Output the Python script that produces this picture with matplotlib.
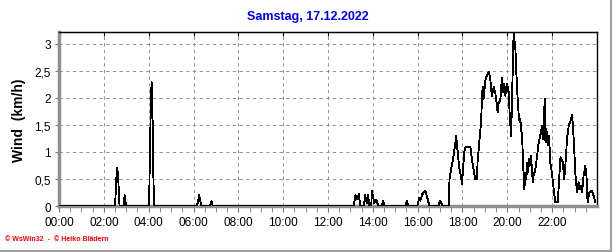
import numpy as np
import matplotlib
matplotlib.use("Agg")
import matplotlib.pyplot as plt
from matplotlib.lines import Line2D

plt.rcParams['font.family'] = ['Liberation Sans', 'DejaVu Sans']

# wind speed (km/h) over the day, time in hours
hours = [0.0, 2.50, 2.52, 2.56, 2.60, 2.64, 2.68, 2.70,
         2.88, 2.91, 2.93, 2.96, 2.99,
         4.02, 4.04, 4.09, 4.13, 4.17, 4.21, 4.24,
         6.15, 6.21, 6.25, 6.30, 6.34,
         6.74, 6.80, 6.86,
         13.15, 13.22, 13.30, 13.37, 13.44,
         13.60, 13.66, 13.73, 13.79, 13.84,
         13.93, 13.96, 14.02, 14.06, 14.15, 14.24,
         14.40, 14.46, 14.53,
         15.46, 15.52, 15.58,
         15.98, 16.07, 16.12, 16.21, 16.34, 16.43, 16.52,
         16.92, 17.01, 17.10,
         17.39, 17.42, 17.49, 17.58, 17.68, 17.72, 17.83, 17.87, 17.93, 17.98,
         18.02, 18.08, 18.13, 18.35, 18.42, 18.49, 18.57, 18.65, 18.67, 18.76,
         18.83, 18.87, 18.90, 18.94, 18.99, 19.03, 19.09, 19.17, 19.24, 19.31,
         19.39, 19.46, 19.51, 19.57, 19.61, 19.69, 19.76, 19.81, 19.87, 19.91,
         19.99, 20.06, 20.10, 20.17, 20.28, 20.31, 20.36, 20.40, 20.46, 20.51,
         20.55, 20.58, 20.61, 20.66, 20.70, 20.73, 20.76, 20.80, 20.85, 20.88,
         20.92, 20.98, 21.03, 21.06, 21.10, 21.15, 21.17, 21.25, 21.33, 21.40,
         21.47, 21.55, 21.59, 21.62, 21.67, 21.70, 21.74, 21.80, 21.84, 21.89,
         21.92, 21.99, 22.07, 22.14, 22.25, 22.37, 22.47, 22.54, 22.62, 22.66,
         22.74, 22.84, 22.89, 22.96, 23.04, 23.11, 23.18, 23.23, 23.29, 23.33,
         23.40, 23.48, 23.53, 23.58, 23.65, 23.78, 23.85, 23.93]
wind = [0.0, 0.0, 0.17, 0.52, 0.70, 0.52, 0.17, 0.0,
        0.0, 0.12, 0.20, 0.10, 0.0,
        0.0, 0.57, 1.72, 2.29, 1.72, 0.57, 0.0,
        0.0, 0.10, 0.21, 0.10, 0.0,
        0.0, 0.09, 0.0,
        0.0, 0.20, 0.12, 0.22, 0.0,
        0.0, 0.20, 0.05, 0.20, 0.0,
        0.0, 0.28, 0.15, 0.05, 0.12, 0.0,
        0.0, 0.10, 0.0,
        0.0, 0.09, 0.0,
        0.0, 0.15, 0.10, 0.22, 0.28, 0.15, 0.0,
        0.0, 0.10, 0.0,
        0.0, 0.50, 0.68, 0.87, 1.18, 1.29, 0.80, 0.68, 0.56, 0.40,
        0.68, 1.00, 1.09, 1.09, 0.87, 0.68, 0.50, 0.50, 0.80, 1.24,
        1.55, 2.04, 2.20, 1.98, 2.20, 2.35, 2.41, 2.49, 2.35, 2.04,
        2.20, 2.10, 1.95, 1.73, 1.90, 1.98, 2.38, 2.10, 2.26, 2.04,
        2.26, 2.10, 1.73, 1.30, 3.22, 3.10, 2.90, 2.48, 1.98, 1.67,
        1.55, 1.62, 1.43, 1.30, 0.80, 0.56, 0.31, 0.62, 0.50, 0.80,
        0.62, 0.87, 0.75, 0.93, 0.62, 0.44, 0.56, 0.68, 0.93, 1.18,
        1.30, 1.49, 1.24, 1.55, 1.98, 1.18, 1.43, 1.12, 1.30, 1.05,
        0.80, 0.60, 0.30, 0.07, 0.07, 0.90, 0.81, 0.50, 0.93, 1.24,
        1.49, 1.60, 1.69, 1.24, 0.56, 0.25, 0.44, 0.31, 0.37, 0.25,
        0.56, 0.74, 0.56, 0.07, 0.25, 0.28, 0.19, 0.07]

hour_ticks = list(range(0, 24, 2))
hour_labels = ["%02d:00" % h for h in hour_ticks]
wind_ticks = [0, 0.5, 1, 1.5, 2, 2.5, 3]
wind_labels = ["0", "0,5", "1", "1,5", "2", "2,5", "3"]

fig = plt.figure(figsize=(6.16, 2.53), dpi=100)
ax = fig.add_axes([59 / 616, 1 - 207 / 253, 538 / 616, 174 / 253])

ax.plot(hours, wind, color="black", lw=0.6, antialiased=False, zorder=3)

ax.set_xlim(0, 24)
ax.set_ylim(0, 3.22)
ax.set_xticks(hour_ticks)
ax.set_xticklabels(hour_labels, fontsize=8.5)
ax.set_xticks(np.arange(0, 24, 0.5), minor=True)
ax.set_yticks(wind_ticks)
ax.set_yticklabels(wind_labels, fontsize=8.5)

ax.grid(True, which="major", color="#808080", linestyle=(0, (4, 4)), lw=0.6)
ax.tick_params(axis="x", which="both", direction="out", length=4, color="#707070", pad=3)
ax.tick_params(axis="y", direction="out", length=3, color="#707070", pad=3)

for s in ["left", "bottom"]:
    ax.spines[s].set_color("#909090")
    ax.spines[s].set_linewidth(2.5)
for s in ["top", "right"]:
    ax.spines[s].set_color("black")
    ax.spines[s].set_linewidth(1)

# ticks along the top border pointing inward
top = ax.secondary_xaxis("top")
top.set_xticks(hour_ticks)
top.set_xticklabels([])
top.tick_params(direction="in", length=3, color="black")

ax.set_ylabel("Wind  (km/h)", fontsize=10, fontweight="bold", labelpad=6)
fig.text(308 / 616, 1 - 17 / 253, "Samstag, 17.12.2022", color="#0000ff",
         fontsize=9, fontweight="bold", ha="center", va="center")
fig.text(5 / 616, 1 - 240 / 253, "\u00a9 WsWin32  -  \u00a9 Heiko Blädern", color="red",
         fontsize=5, fontweight="bold", ha="left", va="center")

# sunken frame at right and bottom
fig.add_artist(Line2D([611 / 616, 611 / 616], [1 - 252 / 253, 1], color="#a0a0a0", lw=1.5))
fig.add_artist(Line2D([0, 611 / 616], [1 - 252 / 253, 1 - 252 / 253], color="#a0a0a0", lw=1.5))

fig.savefig("out.png", dpi=100, facecolor="white")
